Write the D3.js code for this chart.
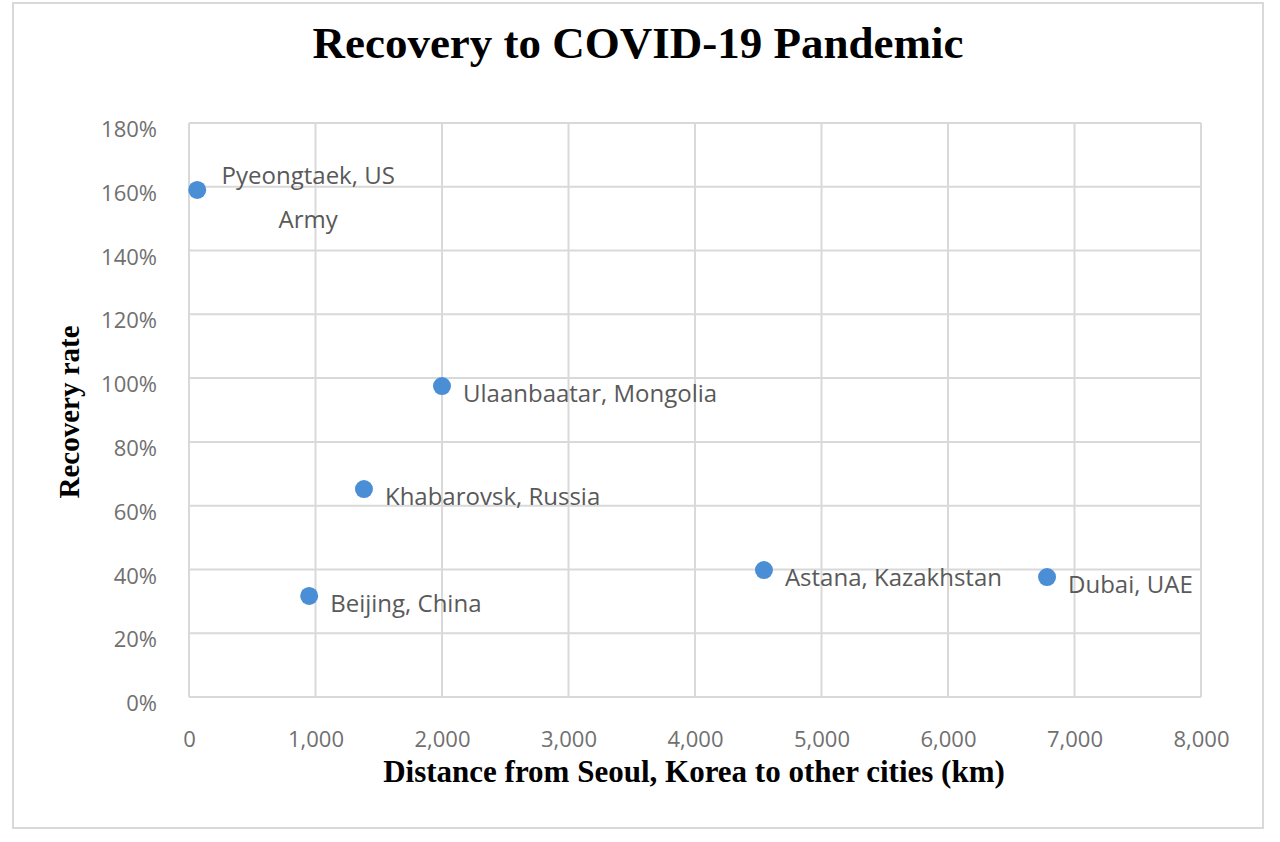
<!DOCTYPE html>
<html>
<head>
<meta charset="utf-8">
<script src="https://cdn.jsdelivr.net/npm/d3@7"></script>
<style>
  body { margin: 0; background: #fff; }
  svg { display: block; }
</style>
</head>
<body>
<div id="scatter"></div>
<script>
// data
let cities = ["Pyeongtaek, US Army", "Ulaanbaatar, Mongolia", "Khabarovsk, Russia", "Beijing, China", "Astana, Kazakhstan", "Dubai, UAE"]
let distances = [65, 2000, 1383, 950, 4545, 6783]
let recovery = [1.59, 0.975, 0.652, 0.317, 0.398, 0.376]
let xTicks = [0, 1000, 2000, 3000, 4000, 5000, 6000, 7000, 8000]
let yTicks = [0, 0.2, 0.4, 0.6, 0.8, 1.0, 1.2, 1.4, 1.6, 1.8]

let svgWidth = 1280
let svgHeight = 842

let svg = d3.select('#scatter').append('svg').attr("width", svgWidth).attr("height", svgHeight)

// outer chart frame
svg.append("rect")
    .attr("x", 13).attr("y", 3)
    .attr("width", 1250).attr("height", 825)
    .attr("fill", "#fff")
    .attr("stroke", "#d9d9d9")
    .attr("stroke-width", 2)

let margin = { top: 123, left: 189 }
let width = 1012
let height = 574

let chartGroup = svg.append("g")
    .attr("transform", `translate(${margin.left}, ${margin.top})`)

let x = d3.scaleLinear().domain([0, 8000]).range([0, width])
let y = d3.scaleLinear().domain([0, 1.8]).range([height, 0])

// gridlines
chartGroup.append("g")
    .selectAll("line.h")
    .data(yTicks)
    .join("line")
    .attr("x1", 0).attr("x2", width)
    .attr("y1", d => y(d)).attr("y2", d => y(d))
    .attr("stroke", "#d9d9d9").attr("stroke-width", 2)

chartGroup.append("g")
    .selectAll("line.v")
    .data(xTicks)
    .join("line")
    .attr("y1", 0).attr("y2", height)
    .attr("x1", d => x(d)).attr("x2", d => x(d))
    .attr("stroke", "#d9d9d9").attr("stroke-width", 2)

// axes (labels only)
let xAxis = chartGroup.append("g")
    .attr("transform", `translate(0, ${height})`)
    .call(d3.axisBottom(x).tickValues(xTicks).tickFormat(d3.format(",")).tickSize(0).tickPadding(36))
let yAxis = chartGroup.append("g")
    .call(d3.axisLeft(y).tickValues(yTicks).tickFormat(d3.format(".0%")).tickSize(0).tickPadding(32))

;[xAxis, yAxis].forEach(a => {
    a.select(".domain").remove()
    a.selectAll("text")
        .attr("fill", "#707070")
        .style("font-family", "'Open Sans', sans-serif")
        .style("font-size", "22px")
})
yAxis.selectAll("text").attr("dy", "0.62em")
xAxis.selectAll("text").attr("dy", "0.65em")

// points
chartGroup.selectAll("circle")
    .data(cities)
    .join("circle")
    .attr("cx", (d, i) => x(distances[i]))
    .attr("cy", (d, i) => y(recovery[i]))
    .attr("r", 9)
    .attr("fill", "#4a8fd6")

// data labels
cities.forEach((c, i) => {
    let px = x(distances[i]), py = y(recovery[i])
    let t = chartGroup.append("text")
        .attr("fill", "#595959")
        .style("font-family", "'Open Sans', sans-serif")
        .style("font-size", "24px")
    if (i === 0) {
        // wrapped label
        let cx = px + 111
        t.attr("text-anchor", "middle")
        t.append("tspan").attr("x", cx).attr("y", py - 6).text("Pyeongtaek, US")
        t.append("tspan").attr("x", cx).attr("y", py + 38).text("Army")
    } else {
        t.attr("x", px + 21).attr("y", py + 16).text(c)
    }
})

// titles
svg.append("text")
    .attr("x", 638).attr("y", 58)
    .attr("text-anchor", "middle")
    .style("font-family", "'Liberation Serif', serif")
    .style("font-weight", "bold")
    .style("font-size", "45px")
    .text("Recovery to COVID-19 Pandemic")

svg.append("text")
    .attr("x", 694).attr("y", 782)
    .attr("text-anchor", "middle")
    .style("font-family", "'Liberation Serif', serif")
    .style("font-weight", "bold")
    .style("font-size", "31px")
    .text("Distance from Seoul, Korea to other cities (km)")

svg.append("text")
    .attr("transform", "translate(79, 412) rotate(-90)")
    .attr("text-anchor", "middle")
    .style("font-family", "'Liberation Serif', serif")
    .style("font-weight", "bold")
    .style("font-size", "29px")
    .text("Recovery rate")
</script>
</body>
</html>
